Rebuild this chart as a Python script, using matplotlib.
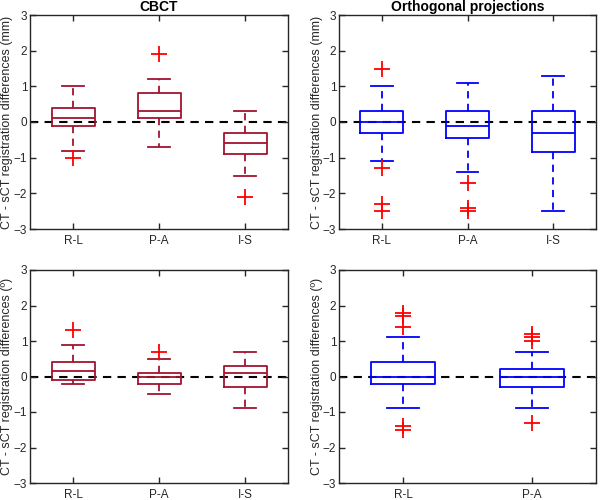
import numpy as np
import matplotlib.pyplot as plt

plt.rcParams['font.family'] = ['Liberation Sans', 'DejaVu Sans']

# box statistics
cats3 = ["R-L", "P-A", "I-S"]
cats2 = ["R-L", "P-A"]

# CBCT, translations (mm)
cbct_mm_q1 = [-0.1, 0.1, -0.9]
cbct_mm_med = [0.1, 0.3, -0.6]
cbct_mm_q3 = [0.4, 0.8, -0.3]
cbct_mm_lo = [-0.8, -0.7, -1.5]
cbct_mm_hi = [1.0, 1.2, 0.3]
cbct_mm_out = [[-1.0], [1.9], [-2.1]]

# orthogonal projections, translations (mm)
orth_mm_q1 = [-0.3, -0.45, -0.85]
orth_mm_med = [0.0, -0.1, -0.3]
orth_mm_q3 = [0.3, 0.3, 0.3]
orth_mm_lo = [-1.1, -1.4, -2.5]
orth_mm_hi = [1.0, 1.1, 1.3]
orth_mm_out = [[1.5, -1.3, -2.3, -2.5], [-1.7, -2.4, -2.5], []]

# CBCT, rotations (deg)
cbct_deg_q1 = [-0.1, -0.2, -0.3]
cbct_deg_med = [0.15, 0.0, 0.1]
cbct_deg_q3 = [0.4, 0.1, 0.3]
cbct_deg_lo = [-0.2, -0.5, -0.9]
cbct_deg_hi = [0.9, 0.5, 0.7]
cbct_deg_out = [[1.3], [0.7], []]

# orthogonal projections, rotations (deg)
orth_deg_q1 = [-0.2, -0.3]
orth_deg_med = [0.0, 0.0]
orth_deg_q3 = [0.4, 0.2]
orth_deg_lo = [-0.9, -0.9]
orth_deg_hi = [1.1, 0.7]
orth_deg_out = [[1.8, 1.7, 1.4, -1.4, -1.5], [1.2, 1.1, 1.0, -1.3]]

darkred = "#A2142F"
blue = "#0000FF"


def make_stats(q1, med, q3, lo, hi, out):
    stats = []
    for i in range(len(q1)):
        stats.append({"q1": q1[i], "med": med[i], "q3": q3[i],
                      "whislo": lo[i], "whishi": hi[i], "fliers": out[i]})
    return stats


def draw(ax, stats, cats, color, ylabel, title=None):
    n = len(cats)
    pos = np.arange(1, n + 1)
    ax.axhline(0, color="k", ls=(0, (4, 3)), lw=1.5, zorder=1)
    ax.bxp(stats, positions=pos, widths=0.5, showfliers=True, patch_artist=False,
           boxprops=dict(color=color, lw=1.3),
           medianprops=dict(color=color, lw=1.3),
           whiskerprops=dict(color=color, lw=1.3, ls=(0, (4, 3))),
           capprops=dict(color=color, lw=1.3),
           capwidths=0.25,
           flierprops=dict(marker="+", markersize=11, markeredgecolor="red",
                           markeredgewidth=1.3, linestyle="none"))
    ax.set_xlim(0.5, n + 0.5)
    ax.set_ylim(-3, 3)
    ax.set_xticks(pos)
    ax.set_xticklabels(cats)
    ax.set_yticks(range(-3, 4))
    ax.tick_params(direction="in", top=True, right=True, labelsize=8.5,
                   length=4, width=1, colors="#262626", pad=2)
    ax.tick_params(axis="x", pad=4)
    for s in ax.spines.values():
        s.set_linewidth(1)
        s.set_color("#262626")
    ax.set_ylabel(ylabel, fontsize=9, color="#262626")
    ax.yaxis.set_label_coords(-0.064, 0.5)
    if title:
        ax.set_title(title, fontsize=10, fontweight="bold", pad=3)


fig = plt.figure(figsize=(6, 5), dpi=100)
ax1 = fig.add_axes([30/600, 1-229/500, 258/600, 214/500])
ax2 = fig.add_axes([339/600, 1-229/500, 257/600, 214/500])
ax3 = fig.add_axes([30/600, 1-483/500, 258/600, 213/500])
ax4 = fig.add_axes([339/600, 1-483/500, 257/600, 213/500])

lab_mm = "CT - sCT registration differences (mm)"
lab_deg = "CT - sCT registration differences (º)"

draw(ax1, make_stats(cbct_mm_q1, cbct_mm_med, cbct_mm_q3, cbct_mm_lo, cbct_mm_hi, cbct_mm_out),
     cats3, darkred, lab_mm, "CBCT")
draw(ax2, make_stats(orth_mm_q1, orth_mm_med, orth_mm_q3, orth_mm_lo, orth_mm_hi, orth_mm_out),
     cats3, blue, lab_mm, "Orthogonal projections")
draw(ax3, make_stats(cbct_deg_q1, cbct_deg_med, cbct_deg_q3, cbct_deg_lo, cbct_deg_hi, cbct_deg_out),
     cats3, darkred, lab_deg)
draw(ax4, make_stats(orth_deg_q1, orth_deg_med, orth_deg_q3, orth_deg_lo, orth_deg_hi, orth_deg_out),
     cats2, blue, lab_deg)

fig.savefig("out.png", dpi=100)
